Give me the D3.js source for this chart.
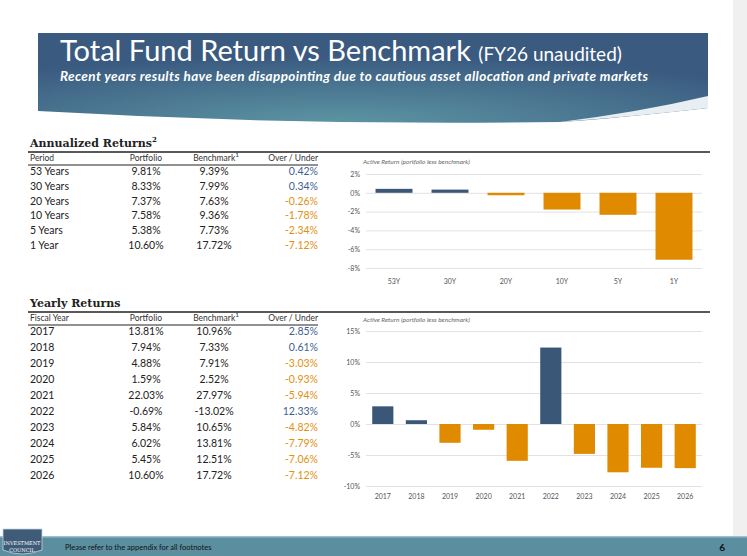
<!DOCTYPE html>
<html lang="en">
<head>
<meta charset="utf-8">
<title>Total Fund Return vs Benchmark</title>
<script src="https://cdn.jsdelivr.net/npm/d3@7"></script>
<style>
  body { margin: 0; background: #fff; }
  svg text { font-family: Lato, "Open Sans", sans-serif; }
</style>
</head>
<body>
<script>
// annualized
var periods = ["53 Years", "30 Years", "20 Years", "10 Years", "5 Years", "1 Year"];
var periodShort = ["53Y", "30Y", "20Y", "10Y", "5Y", "1Y"];
var annPortfolio = ["9.81%", "8.33%", "7.37%", "7.58%", "5.38%", "10.60%"];
var annBenchmark = ["9.39%", "7.99%", "7.63%", "9.36%", "7.73%", "17.72%"];
var annActive = [0.42, 0.34, -0.26, -1.78, -2.34, -7.12];

// yearly
var years = ["2017", "2018", "2019", "2020", "2021", "2022", "2023", "2024", "2025", "2026"];
var yrPortfolio = ["13.81%", "7.94%", "4.88%", "1.59%", "22.03%", "-0.69%", "5.84%", "6.02%", "5.45%", "10.60%"];
var yrBenchmark = ["10.96%", "7.33%", "7.91%", "2.52%", "27.97%", "-13.02%", "10.65%", "13.81%", "12.51%", "17.72%"];
var yrActive = [2.85, 0.61, -3.03, -0.93, -5.94, 12.33, -4.82, -7.79, -7.06, -7.12];

var annTicks = [2, 0, -2, -4, -6, -8];
var yrTicks = [15, 10, 5, 0, -5, -10];

var W = 747, H = 556;
var blue = "#3b5778", orange = "#e08a00";
var posText = "#3d5f92", negText = "#e3900f";

var svg = d3.select("body").append("svg").attr("width", W).attr("height", H);

// header banner
var defs = svg.append("defs");
var grad = defs.append("radialGradient").attr("id", "hdr")
  .attr("cx", "45%").attr("cy", "100%").attr("r", "75%");
grad.append("stop").attr("offset", "0%").attr("stop-color", "#5c95a3");
grad.append("stop").attr("offset", "100%").attr("stop-color", "#3a5a80");

svg.append("rect").attr("x", 733).attr("y", 0).attr("width", 14).attr("height", H).attr("fill", "#f0f0f0");
svg.append("path")
  .attr("d", "M38,33 H708 V108 Q620,118 560,122 Q300,126 38,111 Z")
  .attr("fill", "url(#hdr)");
svg.append("path")
  .attr("d", "M560,122 Q640,112 708,96 V108 Q640,116 560,122 Z")
  .attr("fill", "#e8eef2");

svg.append("text").attr("x", 60).attr("y", 61).attr("fill", "#fff")
  .style("font-size", "29px")
  .text("Total Fund Return vs Benchmark ")
  .append("tspan").style("font-size", "19px").text("(FY26 unaudited)");
svg.append("text").attr("x", 60).attr("y", 81).attr("fill", "#fff")
  .style("font-size", "13.5px").style("font-style", "italic").style("font-weight", "bold")
  .attr("textLength", 588)
  .text("Recent years results have been disappointing due to cautious asset allocation and private markets");

// tables
function drawTable(title, top, rowStep, headers, labels, port, bench, active) {
  var g = svg.append("g");
  var t = g.append("text").attr("x", 30).attr("y", top)
    .style("font-family", "'DejaVu Serif', serif").style("font-weight", "bold").style("font-size", "11px")
    .attr("fill", "#222").text(title);
  if (title === "Annualized Returns") {
    t.append("tspan").attr("dy", -5).style("font-size", "7px").text("2");
  }
  g.append("line").attr("x1", 28).attr("x2", 710).attr("y1", top + 5).attr("y2", top + 5)
    .attr("stroke", "#222").attr("stroke-width", 1.3);
  var hy = top + 14;
  g.append("text").attr("x", 30).attr("y", hy).style("font-size", "8.5px").attr("fill", "#333").text(headers[0]);
  g.append("text").attr("x", 162).attr("y", hy).attr("text-anchor", "end").style("font-size", "8.5px").attr("fill", "#333").text("Portfolio");
  g.append("text").attr("x", 239).attr("y", hy).attr("text-anchor", "end").style("font-size", "8.5px").attr("fill", "#333")
    .text("Benchmark").append("tspan").attr("dy", -4).style("font-size", "6.5px").text("1");
  g.append("text").attr("x", 318).attr("y", hy).attr("text-anchor", "end").style("font-size", "8.5px").attr("fill", "#333").text("Over / Under");
  g.append("line").attr("x1", 28).attr("x2", 318).attr("y1", hy + 4).attr("y2", hy + 4)
    .attr("stroke", "#222").attr("stroke-width", 1);

  var y0 = hy + 14;
  labels.forEach(function(l, i) {
    var y = y0 + i * rowStep;
    g.append("text").attr("x", 30).attr("y", y).style("font-size", "10.5px").attr("fill", "#222").text(l);
    g.append("text").attr("x", 146).attr("y", y).attr("text-anchor", "middle").style("font-size", "10.5px").attr("fill", "#222").text(port[i]);
    g.append("text").attr("x", 214).attr("y", y).attr("text-anchor", "middle").style("font-size", "10.5px").attr("fill", "#222").text(bench[i]);
    g.append("text").attr("x", 318).attr("y", y).attr("text-anchor", "end").style("font-size", "10.5px")
      .attr("fill", active[i] >= 0 ? posText : negText).text(active[i].toFixed(2) + "%");
  });
}

drawTable("Annualized Returns", 147, 14.8, ["Period"], periods, annPortfolio, annBenchmark, annActive);
drawTable("Yearly Returns", 307, 16, ["Fiscal Year"], years, yrPortfolio, yrBenchmark, yrActive);

// bar charts
function drawChart(cats, vals, ticks, yTop, yBottom, titleY, labelY, pad) {
  var g = svg.append("g");
  var x = d3.scaleBand().domain(cats).range([366, 702]).paddingInner(pad).paddingOuter(pad / 2);
  var y = d3.scaleLinear().domain([d3.min(ticks), d3.max(ticks)]).range([yBottom, yTop]);

  g.append("text").attr("x", 363).attr("y", titleY).style("font-size", "6.5px").style("font-style", "italic")
    .attr("fill", "#666").text("Active Return (portfolio less benchmark)");

  var ax = g.append("g").attr("transform", "translate(366,0)")
    .call(d3.axisLeft(y).tickValues(ticks).tickSize(-336).tickFormat(function(d) { return d + "%"; }));
  ax.select(".domain").remove();
  ax.selectAll("line").attr("stroke", "#e2e2e2");
  ax.selectAll("text").attr("x", -6).style("font-size", "7px").attr("fill", "#555");

  g.selectAll("rect.bar").data(vals).enter().append("rect")
    .attr("x", function(d, i) { return x(cats[i]); })
    .attr("width", x.bandwidth())
    .attr("y", function(d) { return y(Math.max(0, d)); })
    .attr("height", function(d) { return Math.abs(y(d) - y(0)); })
    .attr("fill", function(d) { return d >= 0 ? blue : orange; });

  g.selectAll("text.cat").data(cats).enter().append("text")
    .attr("x", function(d) { return x(d) + x.bandwidth() / 2; })
    .attr("y", labelY).attr("text-anchor", "middle").style("font-size", "7px").attr("fill", "#555")
    .text(function(d) { return d; });
}

drawChart(periodShort, annActive, annTicks, 174, 268, 164, 284, 0.34);
drawChart(years, yrActive, yrTicks, 331, 486, 322, 499, 0.37);

// footer
svg.append("rect").attr("x", 0).attr("y", 536).attr("width", W).attr("height", 20).attr("fill", "#5b8fa0");
svg.append("rect").attr("x", 0).attr("y", 536).attr("width", W).attr("height", 1.5).attr("fill", "#9dc0cc");
svg.append("path").attr("d", "M3,529 H42 V550 Q22,558 3,550 Z").attr("fill", "#3e5c78").attr("stroke", "#c8d4dc").attr("stroke-width", 0.8);
svg.append("text").attr("x", 22).attr("y", 545).attr("text-anchor", "middle").attr("fill", "#fff")
  .style("font-family", "'DejaVu Serif', serif").style("font-size", "5px").text("INVESTMENT");
svg.append("text").attr("x", 22).attr("y", 552).attr("text-anchor", "middle").attr("fill", "#fff")
  .style("font-family", "'DejaVu Serif', serif").style("font-size", "5px").text("COUNCIL");
svg.append("text").attr("x", 65).attr("y", 550).attr("fill", "#111").style("font-size", "7.5px")
  .text("Please refer to the appendix for all footnotes");
svg.append("text").attr("x", 725).attr("y", 551).attr("text-anchor", "end").attr("fill", "#111")
  .style("font-size", "10px").style("font-weight", "bold").text("6");
</script>
</body>
</html>
